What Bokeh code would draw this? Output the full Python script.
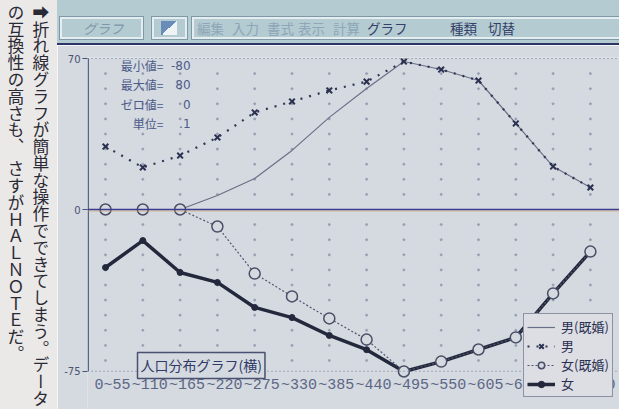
import numpy as np
from bokeh.plotting import figure
from bokeh.models import (Range1d, FixedTicker, Span, Label, Legend, LegendItem,
                          Div, ColumnDataSource)
from bokeh.layouts import row, column
from bokeh.core.properties import value
from bokeh.embed import file_html
from bokeh.resources import INLINE

# ---------------- data ----------------
bounds = ["0", "55", "110", "165", "220", "275", "330", "385", "440",
          "495", "550", "605", "660", "715", "770"]
x_labels = [(bounds[0] if i == 0 else "") + "~" + bounds[i + 1] for i in range(len(bounds) - 1)]

male_married = [0, 0, 0, 6.5, 14.4, 27.4, 42.7, 56.1, 68.6, 64.9, 59.8, 39.9, 19.9, 10.2]
male = [29.2, 19.5, 25.0, 33.4, 45.0, 50.1, 55.2, 59.3, 68.6, 64.9, 59.8, 39.9, 19.9, 10.2]
female_married = [0, 0, 0, -7.9, -29.7, -40.3, -50.5, -60.3, -75.1, -70.5, -64.9, -59.3, -38.9, -19.5]
female = [-26.9, -14.4, -29.2, -33.8, -45.4, -50.1, -58.4, -65.0, -75.1, -70.5, -64.9, -59.3, -38.9, -19.5]

series_names = ["男(既婚)", "男", "女(既婚)", "女"]
y_ticks = [-75, 0, 70]
y_tick_labels = ["-75", "0", "70"]
grid_step = 7

stats_keys = ["最小値=", "最大値=", "ゼロ値=", "単位="]
stats_vals = ["-80", "80", "0", ".1"]
chart_title = "人口分布グラフ(横)"

menu_items = ["編集", "入力", "書式", "表示", "計算", "グラフ", "種類", "切替"]
menu_active = [False, False, False, False, False, True, True, True]
mode_label = "グラフ"

caption_col1 = "➡折れ線グラフが簡単な操作でできてしまう。データ"
caption_col2 = "の互換性の高さも、&#8196;さすがＨＡＬＮＯＴＥだ。"

# ---------------- style ----------------
BG = "#d5d9e0"
JP = "Noto Sans CJK JP"
n = len(male)
xs = list(range(n))

# ---------------- figure ----------------
p = figure(width=562, height=364,
           x_range=Range1d(-0.4826, 13.78), y_range=Range1d(-92.72, 70.47),
           output_backend="svg", toolbar_location=None,
           min_border_left=30, min_border_right=0, min_border_top=12, min_border_bottom=0,
           background_fill_color=BG, border_fill_color=BG, outline_line_color=None)
p.xaxis.visible = False
p.xgrid.visible = False
p.ygrid.visible = False

ax = p.yaxis[0]
ax.ticker = FixedTicker(ticks=y_ticks)
ax.major_label_overrides = {t: l for t, l in zip(y_ticks, y_tick_labels)}
ax.axis_line_color = None
ax.major_tick_line_color = "#4a5270"
ax.major_tick_out = 5
ax.major_tick_in = 0
ax.minor_tick_line_color = None
ax.major_label_standoff = 2
ax.major_label_text_font = "DejaVu Sans"
ax.major_label_text_font_size = "10px"
ax.major_label_text_color = "#4a5270"

# dot grid
gy = [v for v in range(-grid_step * 10, y_ticks[-1], grid_step) if v != 0]
gx, gyy = np.meshgrid(xs, gy)
p.scatter(gx.ravel(), gyy.ravel(), size=2, color="#8e98ae", alpha=0.8)

# dotted frame lines at the extremes
for t in (y_ticks[0], y_ticks[-1]):
    p.add_layout(Span(location=t, dimension="width", line_color="#6d7a94",
                      line_width=1, line_dash="1 3"))
# zero line
p.add_layout(Span(location=-0.75, dimension="width", line_color="#d8a468",
                  line_width=1, line_alpha=0.6))
p.add_layout(Span(location=0, dimension="width", line_color="#3b3d8c", line_width=1.6))
# y axis line
p.segment(x0=[p.x_range.start + 0.02], y0=[y_ticks[0]], x1=[p.x_range.start + 0.02],
          y1=[y_ticks[-1]], line_color="#55648a", line_width=1.5)

# series
r_mm = p.line(xs, male_married, line_color="#6a7088", line_width=1.2)
r_m_l = p.line(xs, male, line_color="#2e3550", line_width=2.2, line_dash="2 7")
r_m_s = p.scatter(xs, male, marker="x", size=8, line_width=2, line_color="#2b3150")
r_f_l = p.line(xs, female, line_color="#23283c", line_width=3.5)
r_f_s = p.scatter(xs, female, marker="circle", size=6, fill_color="#23283c", line_color="#23283c")
r_fm_l = p.line(xs, female_married, line_color="#50566f", line_width=1.2, line_dash="2 2")
r_fm_s = p.scatter(xs, female_married, marker="circle", size=11, fill_color=BG,
                   line_color="#4a4e66", line_width=1.5)

# x labels
src = ColumnDataSource(dict(x=[i + 0.67 for i in xs], y=[-81.6] * n, t=x_labels))
p.text(x="x", y="y", text="t", source=src, text_align="right", text_baseline="middle",
       text_font=value("Liberation Mono"), text_font_size="15px", text_color="#5b6685")

# stats box text
for k, (key, val) in enumerate(zip(stats_keys, stats_vals)):
    yy = 66.8 - 9.0 * k
    p.add_layout(Label(x=1.555, y=yy, text=key, text_align="right", text_baseline="middle",
                       text_font=JP, text_font_size="12px", text_color="#4b5b8a"))
    p.add_layout(Label(x=2.28, y=yy, text=val, text_align="right", text_baseline="middle",
                       text_font="DejaVu Sans", text_font_size="12px", text_color="#4b5b8a"))

# title box
p.add_layout(Label(x=0.858, y=-78.3, text=chart_title, text_align="left", text_baseline="bottom",
                   text_font=JP, text_font_size="14px", text_color="#2f3a66",
                   padding=3, border_line_color="#4a5070", border_line_width=1.5,
                   background_fill_color=BG))

# legend
legend = Legend(items=[LegendItem(label=series_names[0], renderers=[r_mm]),
                       LegendItem(label=series_names[1], renderers=[r_m_l, r_m_s]),
                       LegendItem(label=series_names[2], renderers=[r_fm_l, r_fm_s]),
                       LegendItem(label=series_names[3], renderers=[r_f_l, r_f_s])],
                location=(436, 12), orientation="vertical",
                label_text_font=JP, label_text_font_size="13px", label_text_color="#2a3050",
                glyph_width=28, glyph_height=16, label_height=16, label_standoff=6,
                spacing=0, padding=3, margin=0,
                border_line_color="#3e4560", border_line_width=1.5,
                background_fill_color="#dcdee4", background_fill_alpha=1)
p.add_layout(legend)

# ---------------- menu bar ----------------
menu_left = [140, 175, 210, 241, 276, 310, 393, 431]
items_html = ""
for name, left, act in zip(menu_items, menu_left, menu_active):
    col = "#34406a" if act else "#8ea6b8"
    items_html += (f'<span style="position:absolute;left:{left}px;top:19px;font-size:13.5px;'
                   f'line-height:18px;color:{col};white-space:nowrap;">{name}</span>')
box = ("position:absolute;box-sizing:border-box;top:17px;height:22px;"
       "border:2px solid #e4eef0;box-shadow:0 0 0 1px #7f9aa6;")
menu_html = (
    f'<div style="position:relative;width:562px;height:45px;background:#b4ccd1;'
    f'overflow:hidden;font-family:\'{JP}\';">'
    f'<div style="{box}left:3px;width:83px;"></div>'
    f'<span style="position:absolute;left:26px;top:19px;font-size:13.5px;line-height:18px;'
    f'color:#7d97a8;font-style:italic;white-space:nowrap;">{mode_label}</span>'
    f'<div style="{box}left:95px;width:35px;"></div>'
    f'<div style="position:absolute;left:104px;top:21px;width:16px;height:14px;'
    f'background:linear-gradient(135deg,#6a8cb8 50%,#eef3f5 50%);"></div>'
    f'<div style="{box}left:135px;width:440px;"></div>'
    f'{items_html}'
    f'<div style="position:absolute;left:0;top:43px;width:100%;height:2px;background:#2c3566;"></div>'
    f'</div>')
menu = Div(text=menu_html, width=562, height=45, margin=0)

# ---------------- caption ----------------
cap_html = (
    f'<div style="position:relative;width:57px;height:409px;background:#ebe9e8;overflow:hidden;">'
    f'<div style="position:absolute;right:4px;top:4px;height:420px;writing-mode:vertical-rl;'
    f'text-orientation:upright;font-family:\'{JP}\';font-size:16.8px;line-height:25px;'
    f'color:#2a2a36;white-space:nowrap;">{caption_col1}<br>{caption_col2}</div></div>')
caption = Div(text=cap_html, width=57, height=409, margin=0)

layout = row(caption, column(menu, p, spacing=0), spacing=0)

open("out.html", "w").write(file_html(layout, INLINE))
